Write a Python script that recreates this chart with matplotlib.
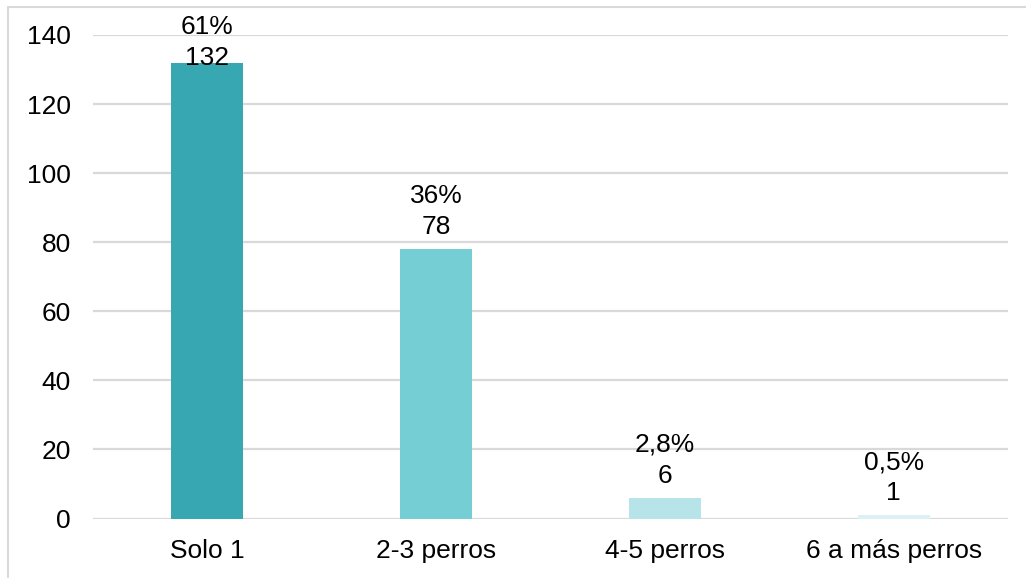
import matplotlib
matplotlib.use("Agg")

import matplotlib.pyplot as plt
from matplotlib.patches import Rectangle

# ---------------------------------------------------------
# DATA
# ---------------------------------------------------------

categories = ["Solo 1", "2-3 perros", "4-5 perros", "6 a más perros"]
counts = [132, 78, 6, 1]
percent_labels = ["61%", "36%", "2,8%", "0,5%"]

bar_colors = ["#37A7B1", "#75CED4", "#B6E4E8", "#DBF1F3"]
# label baseline offset above bar top, in points (first one is pushed down)
label_offsets = [-1.5, 11, 11, 11]

plt.rcParams["font.family"] = ["Liberation Sans", "DejaVu Sans"]
FS = 19

# ---------------------------------------------------------
# FIGURE
# ---------------------------------------------------------

fig = plt.figure(figsize=(10.26, 5.78), dpi=100)
ax = fig.add_axes([93 / 1026, 59.5 / 578, 915 / 1026, 483.5 / 578])

# light frame around the chart area (clipped at right/bottom)
fig.patches.append(Rectangle((8 / 1026, -0.1), 1.2, (578 - 6.5) / 578 + 0.1,
                             transform=fig.transFigure, fill=False,
                             edgecolor="#D9D9D9", lw=1.5))

x = range(len(categories))
bars = ax.bar(x, counts, width=0.315, color=bar_colors, zorder=3)

for rect, n, pct, off in zip(bars, counts, percent_labels, label_offsets):
    ax.annotate(f"{pct}\n{n}",
                xy=(rect.get_x() + rect.get_width() / 2, rect.get_height()),
                xytext=(0, off), textcoords="offset points",
                ha="center", va="baseline", fontsize=FS, color="black",
                linespacing=1.35, zorder=4)

# ---------------------------------------------------------
# AXES
# ---------------------------------------------------------

ax.set_xlim(-0.5, len(categories) - 0.5)
ax.set_ylim(0, 140)
ax.set_yticks(range(0, 141, 20))
ax.set_xticks(list(x))
ax.set_xticklabels(categories)
ax.tick_params(axis="both", length=0, labelsize=FS, colors="black")
ax.tick_params(axis="y", pad=16)
ax.tick_params(axis="x", pad=15)

ax.yaxis.grid(True, color="#D9D9D9", lw=1.6, zorder=0)
ax.set_axisbelow(True)
for side in ["top", "right", "left", "bottom"]:
    ax.spines[side].set_visible(False)

fig.savefig("out.png", dpi=100)
